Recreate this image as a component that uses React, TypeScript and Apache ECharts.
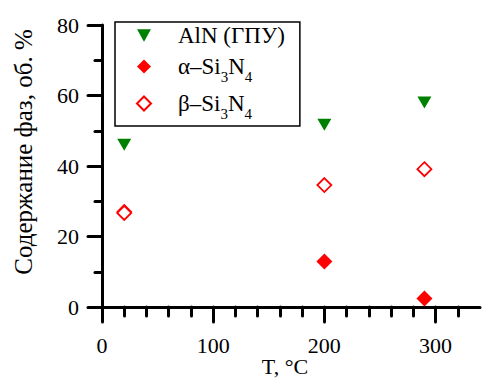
import React, { useEffect, useRef } from "react";
import * as echarts from "echarts";

const FONT = "Liberation Serif";

const temperatures = [20, 200, 290];
const alnValues = [46, 51.7, 58];
const alphaValues = [27, 12.9, 2.4];
const betaValues = [26.7, 34.6, 39.1];

const seriesNames = ["AlN (ГПУ)", "α–Si3N4", "β–Si3N4"];
const legendLabels: Record<string, string> = {
  "AlN (ГПУ)": "{m1|AlN (ГПУ)}",
  "α–Si3N4": "{m|α–Si}{s|3}{m|N}{s|4}",
  "β–Si3N4": "{m|β–Si}{s|3}{m|N}{s|4}",
};

const xMajorTicks = [0, 100, 200, 300];
const xMinorTicks = [20, 40, 60, 80, 120, 140, 160, 180, 220, 240, 260, 280, 320];

const pairs = (ys: number[]) => temperatures.map((t, i) => [t, ys[i]]);

export default function App() {
  const ref = useRef<HTMLDivElement>(null);
  useEffect(() => {
    if (!ref.current) return;
    const chart = echarts.init(ref.current, null, { renderer: "svg" });
    const lineStyle = { color: "#000", width: 3, cap: "round" as const };
    chart.setOption({
      animation: false,
      backgroundColor: "#fff",
      textStyle: { fontFamily: FONT },
      grid: { left: 102, right: 3, top: 25, bottom: 72, outerBoundsMode: "none", containLabel: false },
      xAxis: [
        {
          type: "value",
          min: 0,
          max: 340,
          position: "bottom",
          axisLine: { show: true, lineStyle },
          axisTick: { show: true, customValues: xMinorTicks, length: 9, lineStyle },
          axisLabel: { show: false },
          splitLine: { show: false },
        },
        {
          type: "value",
          min: 0,
          max: 340,
          interval: 100,
          position: "bottom",
          axisLine: { show: false },
          axisTick: { show: true, customValues: xMajorTicks, length: 15, lineStyle },
          axisLabel: {
            showMaxLabel: false,
            margin: 27,
            fontSize: 22,
            fontFamily: FONT,
            color: "#000",
            formatter: (v: number) => (v > 300 ? "" : String(v)),
          },
          splitLine: { show: false },
          name: "T, °C",
          nameLocation: "middle",
          nameGap: 48,
          nameMoveOverlap: false,
          nameTextStyle: { fontSize: 22, fontFamily: FONT, color: "#000", padding: [0, 12, 0, 0] },
        },
      ],
      yAxis: {
        type: "value",
        min: 0,
        max: 80,
        interval: 20,
        axisLine: { show: true, lineStyle },
        axisTick: { show: true, length: 14, lineStyle },
        minorTick: { show: true, splitNumber: 2, length: 7, lineStyle },
        axisLabel: { margin: 23, fontSize: 22, fontFamily: FONT, color: "#000" },
        splitLine: { show: false },
        name: "Содержание фаз, об. %",
        nameLocation: "middle",
        nameGap: 66,
        nameMoveOverlap: false,
        nameTextStyle: { fontSize: 25, fontFamily: FONT, color: "#000", padding: [0, 0, 0, 28] },
      },
      legend: {
        orient: "vertical",
        left: 115,
        top: 22,
        padding: [2, 15, 5, 21],
        itemGap: 2,
        itemWidth: 14,
        itemHeight: 14,
        borderColor: "#000",
        borderWidth: 1.5,
        borderRadius: 0,
        backgroundColor: "#fff",
        data: seriesNames,
        formatter: (name: string) => legendLabels[name] || name,
        textStyle: {
          fontFamily: FONT,
          color: "#000",
          padding: [0, 0, 0, 22],
          rich: {
            m1: { fontSize: 23, fontFamily: FONT, color: "#000", lineHeight: 26 },
            m: { fontSize: 23, fontFamily: FONT, color: "#000", lineHeight: 34 },
            s: { fontSize: 15, fontFamily: FONT, color: "#000", lineHeight: 15, padding: [20, 0, 0, 0] },
          },
        },
      },
      series: [
        {
          name: seriesNames[0],
          type: "scatter",
          xAxisIndex: 0,
          data: pairs(alnValues),
          symbol: "path://M0,0 L10,0 L5,9 Z",
          symbolSize: [14, 12],
          itemStyle: { color: "#008000", opacity: 1 },
        },
        {
          name: seriesNames[1],
          type: "scatter",
          xAxisIndex: 0,
          data: pairs(alphaValues),
          symbol: "diamond",
          symbolSize: 16,
          itemStyle: { color: "#ff0000", opacity: 1 },
        },
        {
          name: seriesNames[2],
          type: "scatter",
          xAxisIndex: 0,
          data: pairs(betaValues),
          symbol: "diamond",
          symbolSize: 14,
          itemStyle: { color: "#ffffff", borderColor: "#ff0000", borderWidth: 1.8, opacity: 1 },
        },
      ],
    });
    return () => chart.dispose();
  }, []);
  return (
    <div
      ref={ref}
      style={{ position: "fixed", left: 0, top: 0, width: 483, height: 379, background: "#fff" }}
    />
  );
}
